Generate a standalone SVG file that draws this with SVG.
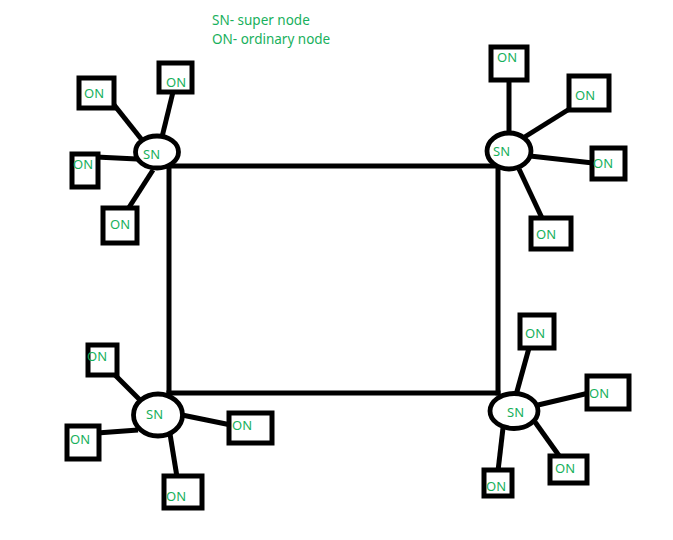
<svg xmlns="http://www.w3.org/2000/svg" width="673" height="540" viewBox="0 0 673 540">
<style>
.on rect{fill:#fff;stroke:#000;stroke-width:5}
.sn ellipse{fill:#fff;stroke:#000;stroke-width:4.8}
.t{font-family:"Noto Sans","Open Sans",sans-serif;font-size:13px;fill:#18b05c}
.lg{font-family:"Noto Sans","Open Sans",sans-serif;font-size:13.5px;fill:#18b05c}
#connectors line{stroke:#000;stroke-width:5;stroke-linecap:butt}
#connectors .edge{stroke-width:5;stroke-linecap:square}
</style>
<rect width="673" height="540" fill="#fff"/>
<g id="legend">
<text class="lg" x="212" y="25">SN- super node</text>
<text class="lg" x="212" y="44">ON- ordinary node</text>
</g>
<g id="connectors">
<line class="edge" x1="169" y1="166" x2="498" y2="166"/>
<line class="edge" x1="498" y1="166" x2="498" y2="393"/>
<line class="edge" x1="498" y1="393" x2="169" y2="393"/>
<line class="edge" x1="169" y1="393" x2="169" y2="166"/>
<line x1="111" y1="101" x2="142" y2="140"/>
<line x1="173" y1="92" x2="162" y2="137"/>
<line x1="96" y1="157" x2="137" y2="159"/>
<line x1="128" y1="209" x2="153" y2="170"/>
<line x1="509" y1="80" x2="509" y2="134"/>
<line x1="571" y1="108" x2="523" y2="138"/>
<line x1="530" y1="156" x2="593" y2="163"/>
<line x1="519" y1="169" x2="542" y2="218"/>
<line x1="112" y1="372" x2="141" y2="401"/>
<line x1="97" y1="433" x2="138" y2="430"/>
<line x1="182" y1="415" x2="231" y2="425"/>
<line x1="170" y1="434" x2="177" y2="477"/>
<line x1="529" y1="348" x2="516" y2="395"/>
<line x1="538" y1="405" x2="589" y2="393"/>
<line x1="535" y1="422" x2="560" y2="457"/>
<line x1="503" y1="428" x2="498" y2="471"/>
</g>
<g id="sn-top-left" class="sn"><ellipse cx="157" cy="152" rx="21.5" ry="16"/><text class="t" x="143" y="159">SN</text></g>
<g id="sn-top-right" class="sn"><ellipse cx="509" cy="151" rx="22" ry="18"/><text class="t" x="493" y="156">SN</text></g>
<g id="sn-bottom-left" class="sn"><ellipse cx="158" cy="415" rx="24.5" ry="21"/><text class="t" x="146" y="419">SN</text></g>
<g id="sn-bottom-right" class="sn"><ellipse cx="514" cy="411" rx="24" ry="17.5"/><text class="t" x="507" y="417">SN</text></g>
<g id="on-tl-1" class="on"><rect x="79" y="78" width="35" height="30"/><text class="t" x="84" y="98">ON</text></g>
<g id="on-tl-2" class="on"><rect x="159" y="63" width="33" height="29"/><text class="t" x="166" y="87">ON</text></g>
<g id="on-tl-3" class="on"><rect x="72" y="154" width="26" height="33"/><text class="t" x="73" y="169">ON</text></g>
<g id="on-tl-4" class="on"><rect x="103" y="208" width="34" height="35"/><text class="t" x="110" y="229">ON</text></g>
<g id="on-tr-1" class="on"><rect x="491" y="47" width="36" height="33"/><text class="t" x="497" y="62">ON</text></g>
<g id="on-tr-2" class="on"><rect x="569" y="76" width="40" height="34"/><text class="t" x="575" y="100">ON</text></g>
<g id="on-tr-3" class="on"><rect x="592" y="148" width="33" height="31"/><text class="t" x="593" y="168">ON</text></g>
<g id="on-tr-4" class="on"><rect x="531" y="218" width="40" height="31"/><text class="t" x="536" y="239">ON</text></g>
<g id="on-bl-1" class="on"><rect x="88" y="345" width="29" height="30"/><text class="t" x="87" y="361">ON</text></g>
<g id="on-bl-2" class="on"><rect x="67" y="426" width="32" height="33"/><text class="t" x="70" y="444">ON</text></g>
<g id="on-bl-3" class="on"><rect x="229" y="413" width="43" height="30"/><text class="t" x="232" y="430">ON</text></g>
<g id="on-bl-4" class="on"><rect x="164" y="476" width="38" height="32"/><text class="t" x="166" y="501">ON</text></g>
<g id="on-br-1" class="on"><rect x="520" y="315" width="34" height="33"/><text class="t" x="525" y="338">ON</text></g>
<g id="on-br-2" class="on"><rect x="587" y="376" width="42" height="33"/><text class="t" x="589" y="398">ON</text></g>
<g id="on-br-3" class="on"><rect x="550" y="456" width="37" height="27"/><text class="t" x="555" y="473">ON</text></g>
<g id="on-br-4" class="on"><rect x="484" y="470" width="28" height="26"/><text class="t" x="486" y="491">ON</text></g>
</svg>
